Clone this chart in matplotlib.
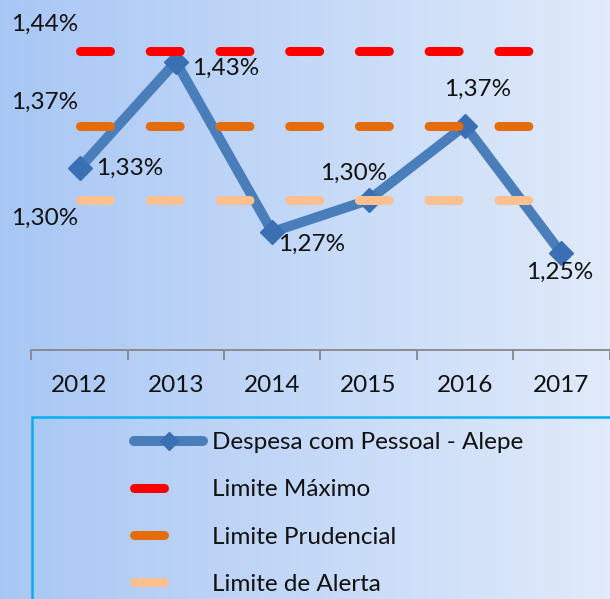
import numpy as np
import matplotlib.pyplot as plt
from matplotlib.lines import Line2D
from matplotlib.patches import Rectangle

plt.rcParams['font.family'] = ['Lato', 'DejaVu Sans']
plt.rcParams['lines.scale_dashes'] = False

# data
years = ['2012', '2013', '2014', '2015', '2016', '2017']
despesa = [1.33, 1.43, 1.27, 1.30, 1.37, 1.25]
limite_maximo = 1.44
limite_prudencial = 1.37
limite_alerta = 1.30

# label offsets (points) for the series values
label_offsets = [(36, 0), (36, -5), (28, -9), (-11, 19), (9, 26), (-1, -14)]

FS = 17.5
fig = plt.figure(figsize=(6.10, 5.99), dpi=100)

# background gradient
bg = fig.add_axes([0, 0, 1, 1], zorder=-5)
stops = np.array([[0.66, 0.78, 0.96], [0.77, 0.85, 0.97], [0.88, 0.92, 0.98]])
t = np.linspace(0, 1, 300)
grad = np.stack([np.interp(t, [0, 0.5, 1], stops[:, c]) for c in range(3)], axis=-1)
bg.imshow(grad[None, :, :], aspect='auto', extent=[0, 1, 0, 1])
bg.axis('off')

ax = fig.add_axes([31.4 / 610, 249 / 599, 578.1 / 610, 350 / 599])
ax.patch.set_visible(False)
x = np.arange(len(years))

dash = dict(lw=6.5, dashes=(21.6, 28.6), dash_capstyle='round', zorder=4)
l_max, = ax.plot(x, [limite_maximo] * len(x), color='#ff0000', **dash)
l_pru, = ax.plot(x, [limite_prudencial] * len(x), color='#e46c0a', **dash)
l_ale, = ax.plot(x, [limite_alerta] * len(x), color='#fac090', **dash)

serie, = ax.plot(x, despesa, color='#4a7ebb', lw=7.2, marker='D', markersize=12.5,
                 markerfacecolor='#3a6fb4', markeredgecolor='#3a6fb4',
                 solid_joinstyle='round', solid_capstyle='round', zorder=3)

def fmt(v):
    return f'{v:.2f}%'.replace('.', ',')

for xi, v, off in zip(x, despesa, label_offsets):
    ax.annotate(fmt(v), (xi, v), xytext=off, textcoords='offset points',
                ha='center', va='center', fontsize=FS, color='#111111', zorder=6)

# limit labels on the left
for v, dy in [(limite_maximo, 19), (limite_prudencial, 17), (limite_alerta, -13)]:
    ax.annotate(fmt(v), (0, v), xytext=(-25, dy), textcoords='offset points',
                ha='center', va='center', fontsize=FS, color='#111111')

ax.set_xlim(-0.5, 5.5)
ax.set_ylim(1.159, 1.488)
ax.set_yticks([])
for s in ['top', 'right', 'left']:
    ax.spines[s].set_visible(False)
ax.spines['bottom'].set_color('#868686')
ax.spines['bottom'].set_linewidth(1.3)
ax.set_xticks(x)
ax.set_xticklabels(years, fontsize=FS, color='#111111')
ax.tick_params(axis='x', which='major', length=0, pad=18)
ax.set_xticks(np.arange(-0.5, len(years)), minor=True)
ax.tick_params(axis='x', which='minor', length=7, width=1.3, color='#868686', direction='out')

# legend
fig.add_artist(Rectangle((32 / 610, -0.1), 1.0, (599 - 417) / 599 + 0.1,
                         transform=fig.transFigure, fill=False,
                         edgecolor='#00b0f0', lw=1.8))
h_serie = Line2D([], [], color='#4a7ebb', lw=7.2, marker='D', markersize=9,
                 markerfacecolor='#3a6fb4', markeredgecolor='#3a6fb4',
                 solid_capstyle='round')
proxy = dict(lw=6.5, dashes=(21.6, 200), dash_capstyle='round')
h_max = Line2D([], [], color='#ff0000', **proxy)
h_pru = Line2D([], [], color='#e46c0a', **proxy)
h_ale = Line2D([], [], color='#fac090', **proxy)
fig.legend([h_serie, h_max, h_pru, h_ale],
           ['Despesa com Pessoal - Alepe', 'Limite Máximo', 'Limite Prudencial', 'Limite de Alerta'],
           loc='upper left', bbox_to_anchor=(134 / 610, 1 - 432 / 599), frameon=False,
           fontsize=FS, handlelength=2.85, handletextpad=0.37, labelspacing=1.08,
           borderpad=0, borderaxespad=0, labelcolor='#111111')

fig.savefig('out.png', dpi=100)
